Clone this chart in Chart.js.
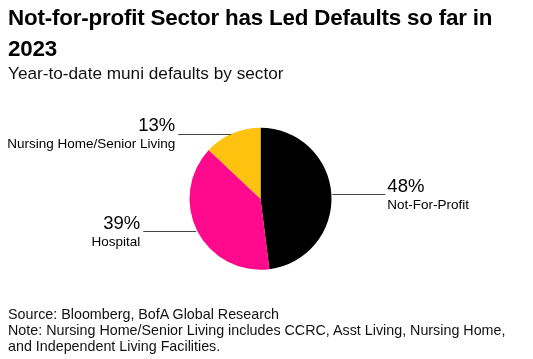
<!DOCTYPE html>
<html>
<head>
<meta charset="utf-8">
<script src="https://cdn.jsdelivr.net/npm/chart.js@4/dist/chart.umd.min.js"></script>
<style>
  html, body { margin: 0; padding: 0; background: #fff; }
  body { width: 533px; height: 359px; position: relative; overflow: hidden; font-family: "Liberation Sans", Arial, sans-serif; color: #000; }
  #title { position: absolute; left: 8px; top: 2px; width: 500px; font-weight: bold; font-size: 22.4px; line-height: 31px; letter-spacing: -0.2px; }
  #subtitle { position: absolute; left: 8px; top: 62px; font-size: 17.2px; line-height: 22px; color: #111; }
  #footer { position: absolute; left: 8px; top: 306px; font-size: 14.3px; line-height: 16px; color: #111; }
  #wrap { position: absolute; left: 0; top: 0; width: 533px; height: 359px; }
</style>
</head>
<body>
<div id="wrap"><canvas id="c" width="533" height="359"></canvas></div>
<div id="title">Not-for-profit Sector has Led Defaults so far in 2023</div>
<div id="subtitle">Year-to-date muni defaults by sector</div>
<div id="footer">Source: Bloomberg, BofA Global Research<br>Note: Nursing Home/Senior Living includes CCRC, Asst Living, Nursing Home,<br>and Independent Living Facilities.</div>
<script>
const categories = ["Not-For-Profit", "Hospital", "Nursing Home/Senior Living"];
const shares = [48, 39, 13];
const percentLabels = ["48%", "39%", "13%"];
const sliceColors = ["#000000", "#FF0A8C", "#FFC20E"];

const leaderPlugin = {
  id: "leaders",
  afterDatasetsDraw(chart) {
    const ctx = chart.ctx;
    const meta = chart.getDatasetMeta(0);
    meta.data.forEach((arc, i) => {
      const p = arc.getProps(["x", "y", "startAngle", "endAngle", "outerRadius"], true);
      const mid = (p.startAngle + p.endAngle) / 2;
      const ex = p.x + Math.cos(mid) * p.outerRadius;
      const ey = p.y + Math.sin(mid) * p.outerRadius;
      const right = Math.cos(mid) >= 0;
      const len = 54;
      const lx = right ? ex + len : ex - len;
      ctx.save();
      ctx.strokeStyle = "#444";
      ctx.lineWidth = 1;
      ctx.beginPath();
      ctx.moveTo(ex + (right ? 1 : -1), Math.round(ey) + 0.5);
      ctx.lineTo(lx, Math.round(ey) + 0.5);
      ctx.stroke();
      ctx.fillStyle = "#000";
      ctx.textAlign = right ? "left" : "right";
      ctx.textBaseline = "middle";
      const tx = right ? lx + 2 : lx - 3;
      ctx.font = "18.5px 'Liberation Sans', Arial, sans-serif";
      ctx.fillText(percentLabels[i], tx, ey - 7.5);
      ctx.font = "13.5px 'Liberation Sans', Arial, sans-serif";
      ctx.fillText(categories[i], tx, ey + 11);
      ctx.restore();
    });
  }
};

new Chart(document.getElementById("c"), {
  type: "pie",
  data: {
    labels: categories,
    datasets: [{
      data: shares,
      backgroundColor: sliceColors,
      borderWidth: 0
    }]
  },
  options: {
    responsive: false,
    animation: false,
    layout: { padding: { left: 189.5, right: 201.5, top: 127.7, bottom: 89.3 } },
    plugins: { legend: { display: false }, tooltip: { enabled: false }, title: { display: false } }
  },
  plugins: [leaderPlugin]
});
</script>
</body>
</html>
